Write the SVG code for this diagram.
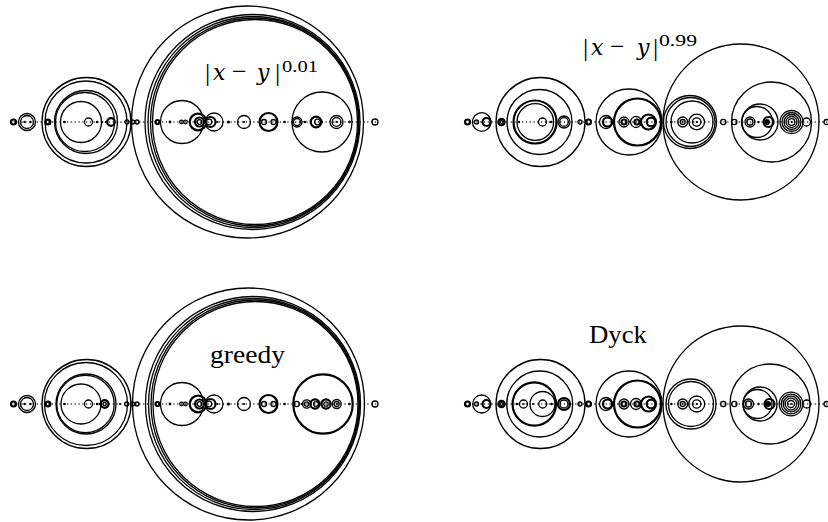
<svg xmlns="http://www.w3.org/2000/svg" width="828" height="522" viewBox="0 0 828 522">
<style>
.c{fill:none;stroke:#000;stroke-width:1.3}
.k{fill:none;stroke:#000;stroke-width:2.2}
.f{fill:#000;stroke:none}
.b{stroke:#444;stroke-width:1.3;stroke-dasharray:1.3 2.5;fill:none}
.m{font-family:'Liberation Serif','DejaVu Serif',serif;fill:#000}
.mi{font-family:'DejaVu Serif','Liberation Serif',serif;font-style:italic}
</style>
<rect width="828" height="522" fill="#fff"/>

<!-- ============ TOP LEFT ============ -->
<g id="panel-top-left">
<line class="b" x1="10" y1="122" x2="378" y2="122"/>
<circle class="k" cx="13.5" cy="122" r="2.5"/>
<circle class="c" cx="27" cy="122" r="8.5"/>
<circle class="c" cx="27" cy="122" r="6.5"/>
<circle class="f" cx="24.5" cy="122" r="1.2"/>
<circle class="f" cx="30.5" cy="122" r="1.2"/>
<circle class="k" cx="48" cy="122" r="2.4"/>
<circle class="c" cx="86.5" cy="122" r="44.5"/>
<circle class="c" cx="86" cy="122" r="41"/>
<circle class="c" cx="86" cy="122" r="31.5"/>
<circle class="c" cx="85" cy="122" r="29.5"/>
<circle class="c" cx="81" cy="122" r="20.5"/>
<circle class="f" cx="64.5" cy="122" r="1.3"/>
<circle class="c" cx="88.5" cy="122" r="4"/>
<circle class="f" cx="97" cy="122" r="1.2"/>
<circle class="f" cx="102" cy="122" r="1.3"/>
<circle class="k" cx="111" cy="122" r="3.8"/>
<circle class="f" cx="106" cy="122" r="1.2"/>
<circle class="c" cx="127" cy="122" r="2"/>
<circle class="c" cx="132.5" cy="122" r="2"/>
<circle class="c" cx="137" cy="122" r="2"/>
<circle class="c" cx="247.5" cy="122" r="116"/>
<circle class="c" cx="252.5" cy="122" r="107.5"/>
<circle class="c" cx="253.5" cy="122" r="105.5"/>
<circle class="c" cx="254.5" cy="122" r="104"/>
<circle class="c" cx="255" cy="122" r="102.5"/>
<circle class="k" cx="157.5" cy="122" r="2"/>
<circle class="c" cx="182" cy="122" r="21.5"/>
<circle class="f" cx="170" cy="122" r="1.4"/>
<circle class="c" cx="181.5" cy="122" r="1.8"/>
<circle class="c" cx="185.5" cy="122" r="1.8"/>
<circle class="k" cx="198" cy="122" r="8.3"/>
<circle class="k" cx="199.5" cy="122" r="4.5"/>
<circle class="c" cx="199.5" cy="122" r="2.3"/>
<circle class="c" cx="214" cy="122" r="9"/>
<circle class="k" cx="210.5" cy="122" r="5"/>
<circle class="c" cx="209" cy="122" r="2.8"/>
<circle class="f" cx="217.5" cy="122" r="1.1"/>
<circle class="f" cx="228.5" cy="122" r="1.5"/>
<circle class="c" cx="244" cy="122" r="6.5"/>
<circle class="f" cx="244" cy="122" r="1.1"/>
<circle class="k" cx="268.5" cy="122" r="9"/>
<circle class="c" cx="264" cy="122" r="2.5"/>
<circle class="c" cx="273.5" cy="122" r="2.5"/>
<circle class="f" cx="284.5" cy="122" r="1.3"/>
<circle class="c" cx="322" cy="122" r="30"/>
<circle class="c" cx="297" cy="122" r="5"/>
<circle class="c" cx="297" cy="122" r="3.5"/>
<circle class="f" cx="305" cy="122" r="1.2"/>
<circle class="k" cx="316" cy="122" r="5.3"/>
<circle class="c" cx="317.5" cy="122" r="2.8"/>
<circle class="f" cx="322" cy="122" r="1.2"/>
<circle class="c" cx="336.5" cy="122" r="6.5"/>
<circle class="c" cx="336.5" cy="122" r="4.3"/>
<circle class="f" cx="336.5" cy="122" r="1.1"/>
<circle class="f" cx="349.5" cy="122" r="1.3"/>
<circle class="c" cx="375" cy="122" r="3"/>
<text class="m" font-size="26"><tspan x="205" y="81">|</tspan><tspan class="mi" font-size="22" x="213" y="80">x</tspan><tspan x="232" y="80">−</tspan><tspan class="mi" font-size="22" x="257" y="80">y</tspan><tspan x="275" y="81">|</tspan></text>
<text class="m" font-size="16" x="282" y="71.5" textLength="36" lengthAdjust="spacingAndGlyphs">0.01</text>
</g>

<!-- ============ TOP RIGHT ============ -->
<g id="panel-top-right">
<line class="b" x1="465" y1="122" x2="828" y2="122"/>
<circle class="k" cx="467.5" cy="122" r="2.5"/>
<circle class="c" cx="476.5" cy="122" r="2"/>
<circle class="c" cx="481.7" cy="122" r="9.3"/>
<circle class="k" cx="486.5" cy="122" r="4"/>
<circle class="k" cx="501.5" cy="122" r="3.2"/>
<circle class="c" cx="501.5" cy="122" r="1.4"/>
<circle class="c" cx="540.5" cy="122" r="44.5"/>
<circle class="c" cx="539.5" cy="122" r="32.5"/>
<circle class="k" cx="535" cy="122" r="21.5"/>
<circle class="c" cx="535.3" cy="122" r="18.3"/>
<circle class="f" cx="519" cy="122" r="1.2"/>
<circle class="c" cx="542.5" cy="122" r="4"/>
<circle class="f" cx="551" cy="122" r="1.3"/>
<circle class="c" cx="564" cy="122" r="6"/>
<circle class="c" cx="564" cy="122" r="4.3"/>
<circle class="c" cx="580" cy="122" r="2"/>
<circle class="k" cx="588.5" cy="122" r="2.5"/>
<circle class="c" cx="629" cy="122" r="33"/>
<circle class="k" cx="637.5" cy="122" r="23.5"/>
<circle class="c" cx="606" cy="122" r="6.5"/>
<circle class="k" cx="607.5" cy="122" r="4.5"/>
<circle class="c" cx="624" cy="122" r="5"/>
<circle class="k" cx="624" cy="122" r="2.5"/>
<circle class="c" cx="636" cy="122" r="5.5"/>
<circle class="k" cx="637" cy="122" r="2.5"/>
<circle class="k" cx="648.5" cy="122" r="7.5"/>
<circle class="k" cx="651" cy="122" r="4.3"/>
<circle class="c" cx="741" cy="122" r="78"/>
<circle class="c" cx="690" cy="122" r="26.5"/>
<circle class="c" cx="690.5" cy="122" r="24.5"/>
<circle class="c" cx="692" cy="122" r="21"/>
<circle class="f" cx="671.5" cy="122" r="1.2"/>
<circle class="c" cx="682.7" cy="122" r="5"/>
<circle class="c" cx="682.7" cy="122" r="2.5"/>
<circle class="f" cx="682.7" cy="122" r="1"/>
<circle class="c" cx="696.7" cy="122" r="7.8"/>
<circle class="c" cx="696.7" cy="122" r="4.2"/>
<circle class="f" cx="696.7" cy="122" r="1.1"/>
<circle class="c" cx="723.3" cy="122" r="2.6"/>
<circle class="c" cx="734.3" cy="122" r="2.6"/>
<circle class="c" cx="771.5" cy="122" r="40"/>
<circle class="c" cx="760" cy="122" r="18"/>
<circle class="c" cx="757" cy="122" r="15.5"/>
<circle class="c" cx="750" cy="122" r="5"/>
<circle class="c" cx="750" cy="122" r="3"/>
<circle class="f" cx="758.5" cy="122" r="1.2"/>
<circle class="k" cx="768.5" cy="122" r="5"/>
<circle class="f" cx="767" cy="122" r="3"/>
<circle class="c" cx="791.5" cy="122" r="11.5"/>
<circle class="c" cx="791.5" cy="122" r="9.5"/>
<circle class="c" cx="791.5" cy="122" r="7.5"/>
<circle class="c" cx="791.5" cy="122" r="5.5"/>
<circle class="c" cx="791.5" cy="122" r="3.3"/>
<circle class="f" cx="791.5" cy="122" r="1"/>
<circle class="c" cx="806.5" cy="122" r="4"/>
<circle class="c" cx="826.5" cy="122" r="2.5"/>
<text class="m" font-size="26"><tspan x="583" y="56">|</tspan><tspan class="mi" font-size="22" x="591" y="55">x</tspan><tspan x="610" y="55">−</tspan><tspan class="mi" font-size="22" x="637" y="55">y</tspan><tspan x="653" y="56">|</tspan></text>
<text class="m" font-size="16" x="659" y="45.5" textLength="38" lengthAdjust="spacingAndGlyphs">0.99</text>
</g>

<!-- ============ BOTTOM LEFT (greedy) ============ -->
<g id="panel-bottom-left">
<line class="b" x1="10" y1="404" x2="378" y2="404"/>
<circle class="k" cx="13.5" cy="404" r="2.5"/>
<circle class="c" cx="27" cy="404" r="8.5"/>
<circle class="c" cx="27" cy="404" r="6.5"/>
<circle class="f" cx="24.5" cy="404" r="1.2"/>
<circle class="f" cx="30.5" cy="404" r="1.2"/>
<circle class="k" cx="48" cy="404" r="2.4"/>
<circle class="c" cx="86.5" cy="404" r="44.5"/>
<circle class="c" cx="86" cy="404" r="41.5"/>
<circle class="c" cx="86" cy="404" r="30"/>
<circle class="c" cx="85.5" cy="404" r="28.7"/>
<circle class="c" cx="81" cy="404" r="20"/>
<circle class="f" cx="64.5" cy="404" r="1.3"/>
<circle class="c" cx="88.5" cy="404" r="4"/>
<circle class="f" cx="97" cy="404" r="1.2"/>
<circle class="f" cx="100" cy="404" r="1.3"/>
<circle class="k" cx="104.7" cy="404" r="3.8"/>
<circle class="c" cx="104.7" cy="404" r="1.6"/>
<circle class="f" cx="120" cy="404" r="1"/>
<circle class="c" cx="126.7" cy="404" r="2"/>
<circle class="c" cx="132.5" cy="404" r="2"/>
<circle class="c" cx="137" cy="404" r="2"/>
<circle class="c" cx="248.5" cy="404" r="116"/>
<circle class="c" cx="253" cy="404" r="107.5"/>
<circle class="c" cx="254" cy="404" r="105.5"/>
<circle class="c" cx="255" cy="404" r="104"/>
<circle class="c" cx="255.5" cy="404" r="102.5"/>
<circle class="k" cx="157.5" cy="404" r="2"/>
<circle class="c" cx="182" cy="404" r="21.5"/>
<circle class="f" cx="170" cy="404" r="1.4"/>
<circle class="c" cx="181.5" cy="404" r="1.8"/>
<circle class="c" cx="185.5" cy="404" r="1.8"/>
<circle class="k" cx="198" cy="404" r="8.3"/>
<circle class="k" cx="199.5" cy="404" r="4.5"/>
<circle class="c" cx="199.5" cy="404" r="2.3"/>
<circle class="c" cx="214" cy="404" r="9"/>
<circle class="k" cx="210.5" cy="404" r="5"/>
<circle class="c" cx="209" cy="404" r="2.8"/>
<circle class="f" cx="217.5" cy="404" r="1.1"/>
<circle class="f" cx="228.5" cy="404" r="1.5"/>
<circle class="c" cx="244" cy="404" r="6.5"/>
<circle class="f" cx="244" cy="404" r="1.1"/>
<circle class="k" cx="268.5" cy="404" r="9"/>
<circle class="c" cx="264" cy="404" r="2.5"/>
<circle class="c" cx="273.5" cy="404" r="2.5"/>
<circle class="f" cx="284.5" cy="404" r="1.3"/>
<circle class="k" cx="323" cy="404" r="29.7"/>
<circle class="c" cx="296.7" cy="404" r="2.6"/>
<circle class="f" cx="301.5" cy="404" r="1"/>
<circle class="c" cx="306.7" cy="404" r="4.2"/>
<circle class="c" cx="306.7" cy="404" r="2.2"/>
<circle class="k" cx="315" cy="404" r="4.6"/>
<circle class="c" cx="316" cy="404" r="2.4"/>
<circle class="k" cx="326" cy="404" r="4.6"/>
<circle class="c" cx="326" cy="404" r="2.2"/>
<circle class="c" cx="336.7" cy="404" r="4.5"/>
<circle class="c" cx="336.7" cy="404" r="2.5"/>
<circle class="f" cx="336.7" cy="404" r="1"/>
<circle class="f" cx="349.5" cy="404" r="1.3"/>
<circle class="c" cx="375" cy="404" r="3"/>
<text class="m" font-size="25" x="210" y="363" textLength="75" lengthAdjust="spacingAndGlyphs">greedy</text>
</g>

<!-- ============ BOTTOM RIGHT (Dyck) ============ -->
<g id="panel-bottom-right">
<line class="b" x1="465" y1="404" x2="828" y2="404"/>
<circle class="k" cx="467.5" cy="404" r="2.5"/>
<circle class="c" cx="476.5" cy="404" r="2"/>
<circle class="c" cx="481.7" cy="404" r="9"/>
<circle class="k" cx="486.5" cy="404" r="4"/>
<circle class="k" cx="501.5" cy="404" r="3.2"/>
<circle class="c" cx="501.5" cy="404" r="1.4"/>
<circle class="c" cx="540.5" cy="404" r="44.5"/>
<circle class="c" cx="539.7" cy="404" r="33"/>
<circle class="k" cx="534.3" cy="404" r="21.7"/>
<circle class="c" cx="542.5" cy="404" r="12.5"/>
<circle class="c" cx="523.5" cy="404" r="4"/>
<circle class="f" cx="523.5" cy="404" r="1"/>
<circle class="f" cx="517" cy="404" r="1.2"/>
<circle class="c" cx="542.7" cy="404" r="4"/>
<circle class="f" cx="533" cy="404" r="1"/>
<circle class="f" cx="551.5" cy="404" r="1.3"/>
<circle class="k" cx="564" cy="404" r="6"/>
<circle class="c" cx="564" cy="404" r="4"/>
<circle class="c" cx="580" cy="404" r="2"/>
<circle class="k" cx="588.5" cy="404" r="2.5"/>
<circle class="c" cx="629" cy="404" r="33"/>
<circle class="k" cx="637.5" cy="404" r="23.5"/>
<circle class="c" cx="606" cy="404" r="6.5"/>
<circle class="k" cx="607.5" cy="404" r="4.5"/>
<circle class="c" cx="624" cy="404" r="5"/>
<circle class="k" cx="624" cy="404" r="2.5"/>
<circle class="c" cx="636" cy="404" r="5.5"/>
<circle class="k" cx="637" cy="404" r="2.5"/>
<circle class="k" cx="648.5" cy="404" r="7.5"/>
<circle class="k" cx="651" cy="404" r="4.3"/>
<circle class="c" cx="741" cy="404" r="78"/>
<circle class="c" cx="691" cy="404" r="25"/>
<circle class="c" cx="691" cy="404" r="22.5"/>
<circle class="f" cx="671.5" cy="404" r="1.2"/>
<circle class="c" cx="682.7" cy="404" r="5"/>
<circle class="c" cx="682.7" cy="404" r="2.5"/>
<circle class="f" cx="682.7" cy="404" r="1"/>
<circle class="c" cx="696.7" cy="404" r="8"/>
<circle class="c" cx="696.7" cy="404" r="4.2"/>
<circle class="f" cx="696.7" cy="404" r="1.1"/>
<circle class="c" cx="723.3" cy="404" r="2.6"/>
<circle class="c" cx="734.3" cy="404" r="2.6"/>
<circle class="c" cx="770" cy="404" r="40"/>
<circle class="c" cx="760" cy="404" r="17"/>
<circle class="c" cx="757.5" cy="404" r="14.5"/>
<circle class="c" cx="748.5" cy="404" r="5"/>
<circle class="c" cx="748.5" cy="404" r="3"/>
<circle class="f" cx="758.5" cy="404" r="1.2"/>
<circle class="k" cx="769.5" cy="404" r="5"/>
<circle class="f" cx="768" cy="404" r="3"/>
<circle class="c" cx="791" cy="404" r="11.8"/>
<circle class="c" cx="791" cy="404" r="9.8"/>
<circle class="c" cx="791" cy="404" r="7.8"/>
<circle class="c" cx="791" cy="404" r="5.8"/>
<circle class="c" cx="791" cy="404" r="3.5"/>
<circle class="f" cx="791" cy="404" r="1"/>
<circle class="c" cx="806.7" cy="404" r="4"/>
<circle class="c" cx="826.5" cy="404" r="2.5"/>
<text class="m" font-size="25" x="589" y="343" textLength="58" lengthAdjust="spacingAndGlyphs">Dyck</text>
</g>
</svg>
